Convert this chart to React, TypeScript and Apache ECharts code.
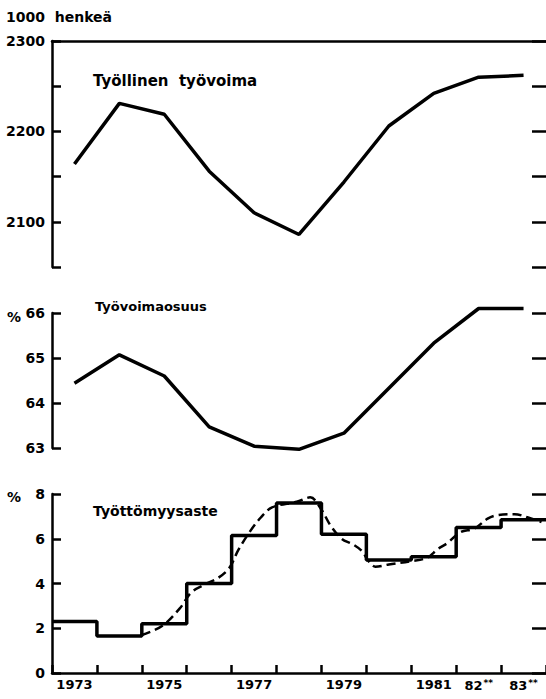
import React, { useEffect, useRef } from 'react';
import * as echarts from 'echarts';

const years = ['1973', '1974', '1975', '1976', '1977', '1978', '1979', '1980', '1981', '1982', '1983'];
const xLabels = ['1973', '', '1975', '', '1977', '', '1979', '', '1981', '82**', '83**'];
const employed = [2164, 2231, 2219, 2156, 2110, 2086, 2144, 2206, 2242, 2260, 2262];
const participation = [64.44, 65.07, 64.6, 63.47, 63.04, 62.97, 63.33, 64.33, 65.33, 66.1, 66.1];
const unemploymentAnnual = [2.3, 1.65, 2.2, 4.0, 6.15, 7.6, 6.2, 5.05, 5.2, 6.5, 6.85];
const trendTime = [1975.0, 1975.45, 1975.85, 1976.1, 1976.4, 1976.7, 1976.95, 1977.15, 1977.4, 1977.65, 1977.9,
  1978.45, 1978.75, 1979.0, 1979.2, 1979.45, 1979.7, 1979.9, 1980.05, 1980.2, 1980.5, 1981.0, 1981.35, 1981.6,
  1981.8, 1982.1, 1982.4, 1982.7, 1982.9, 1983.3, 1983.6, 1983.9];
const trendValue = [1.7, 2.1, 2.9, 3.6, 3.95, 4.25, 4.7, 5.5, 6.3, 6.95, 7.4,
  7.65, 7.85, 7.3, 6.6, 6.0, 5.75, 5.45, 5.0, 4.75, 4.85, 5.0, 5.15, 5.55,
  5.8, 6.3, 6.45, 6.9, 7.05, 7.1, 6.95, 6.75];

const FONT = '"DejaVu Sans", sans-serif';
const BLACK = '#000';

function leftAxis(grid: number, min: number, max: number, interval: number, labelFn?: (v: number) => string, margin = 7) {
  return {
    type: 'value', gridIndex: grid, position: 'left', min, max, interval,
    axisLine: { show: true, lineStyle: { color: BLACK, width: 2.5 } },
    axisTick: { show: true, inside: true, length: 9, lineStyle: { color: BLACK, width: 2.5 } },
    axisLabel: {
      show: true, color: BLACK, fontFamily: FONT, fontWeight: 'bold', fontSize: 14, margin,
      formatter: labelFn ? labelFn : (v: number) => String(v),
    },
    splitLine: { show: false },
  };
}

function rightAxis(grid: number, min: number, max: number, interval: number) {
  return {
    type: 'value', gridIndex: grid, position: 'right', min, max, interval,
    axisLine: { show: false },
    axisTick: { show: true, inside: true, length: 14, lineStyle: { color: BLACK, width: 2.5 } },
    axisLabel: { show: false },
    splitLine: { show: false },
  };
}

export default function App() {
  const ref = useRef<HTMLDivElement>(null);
  useEffect(() => {
    const chart = echarts.init(ref.current!, null, { renderer: 'svg' });
    const option: any = {
      animation: false,
      backgroundColor: '#fff',
      grid: [
        { left: 52, right: -5, top: 41, height: 226 },
        { left: 52, right: -5, top: 313, height: 135 },
        { left: 52, right: -5, top: 494, height: 179 },
      ],
      xAxis: [
        {
          type: 'category', gridIndex: 0, data: years, position: 'top', boundaryGap: true,
          axisLine: { show: true, lineStyle: { color: BLACK, width: 2.5 } },
          axisTick: { show: false }, axisLabel: { show: false }, splitLine: { show: false },
        },
        {
          type: 'category', gridIndex: 1, data: years, boundaryGap: true,
          axisLine: { show: false }, axisTick: { show: false }, axisLabel: { show: false }, splitLine: { show: false },
        },
        {
          type: 'category', gridIndex: 2, data: xLabels, boundaryGap: true,
          axisLine: { show: true, lineStyle: { color: BLACK, width: 2.5 } },
          axisTick: { show: true, inside: true, length: 8, interval: 0, lineStyle: { color: BLACK, width: 2.5 } },
          axisLabel: {
            show: true, interval: 0, color: BLACK, fontFamily: FONT, fontWeight: 'bold', fontSize: 13, margin: 5,
            formatter: (v: string) => (v.endsWith('**') ? v.replace('**', '{s|**}') : v),
            rich: { s: { fontSize: 9, fontWeight: 'bold', fontFamily: FONT, color: BLACK, verticalAlign: 'top', padding: [0, 0, 6, 1] } },
          },
          splitLine: { show: false },
        },
        {
          type: 'value', gridIndex: 2, min: 1973, max: 1984, show: false,
        },
      ],
      yAxis: [
        leftAxis(0, 2050, 2300, 50, (v: number) => (v % 100 === 0 ? String(v) : '')),
        rightAxis(0, 2050, 2300, 50),
        leftAxis(1, 63, 66, 1),
        rightAxis(1, 63, 66, 1),
        leftAxis(2, 0, 8, 2, undefined, 7),
        rightAxis(2, 0, 8, 2),
      ],
      series: [
        {
          type: 'line', xAxisIndex: 0, yAxisIndex: 0, data: employed, symbol: 'none', clip: false,
          lineStyle: { color: BLACK, width: 3.5 },
        },
        {
          type: 'line', xAxisIndex: 1, yAxisIndex: 2, data: participation, symbol: 'none', clip: false,
          lineStyle: { color: BLACK, width: 3.5 },
        },
        {
          type: 'line', xAxisIndex: 3, yAxisIndex: 4, step: 'end', symbol: 'none', clip: false,
          data: [...unemploymentAnnual.map((v, i) => [1973 + i, v]), [1973 + unemploymentAnnual.length, unemploymentAnnual[unemploymentAnnual.length - 1]]],
          lineStyle: { color: BLACK, width: 3.5 },
        },
        {
          type: 'line', xAxisIndex: 3, yAxisIndex: 4, smooth: 0.35, symbol: 'none', clip: false,
          data: trendTime.map((t, i) => [t, trendValue[i]]),
          lineStyle: { color: BLACK, width: 2.5, type: [9, 5] },
        },
      ],
      graphic: [
        { type: 'text', x: 6, y: 17, style: { text: '1000  henkeä', fill: BLACK, font: `bold 14px ${FONT}`, verticalAlign: 'middle' } },
        { type: 'text', x: 93, y: 81, style: { text: 'Työllinen  työvoima', fill: BLACK, font: `bold 15px ${FONT}`, verticalAlign: 'middle' } },
        { type: 'text', x: 7, y: 317, style: { text: '%', fill: BLACK, font: `bold 14px ${FONT}`, verticalAlign: 'middle' } },
        { type: 'text', x: 95, y: 306, style: { text: 'Työvoimaosuus', fill: BLACK, font: `bold 13px ${FONT}`, verticalAlign: 'middle' } },
        { type: 'text', x: 7, y: 497, style: { text: '%', fill: BLACK, font: `bold 14px ${FONT}`, verticalAlign: 'middle' } },
        { type: 'text', x: 93, y: 511, style: { text: 'Työttömyysaste', fill: BLACK, font: `bold 14px ${FONT}`, verticalAlign: 'middle' } },
      ],
    };
    chart.setOption(option);
    return () => chart.dispose();
  }, []);
  return <div ref={ref} style={{ position: 'absolute', left: 0, top: 0, width: 546, height: 699, background: '#fff' }} />;
}
